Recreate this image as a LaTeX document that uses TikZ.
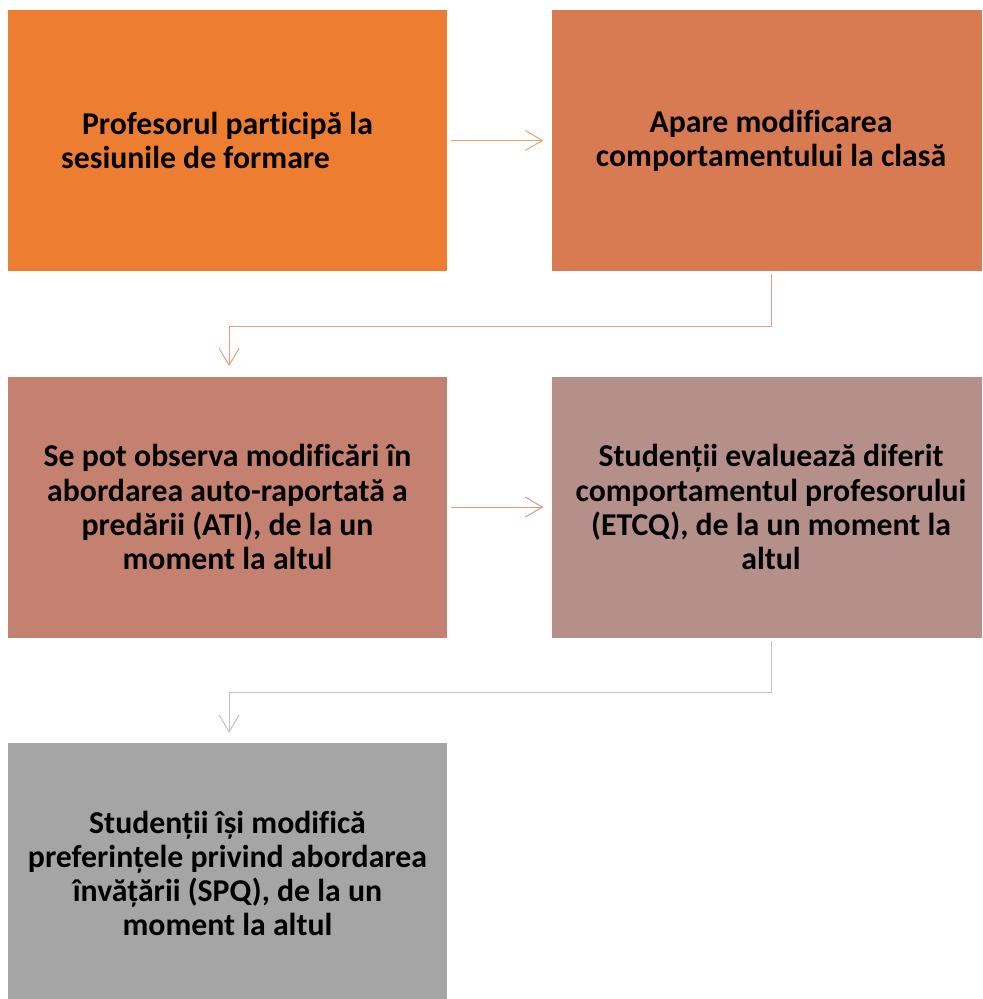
\documentclass[tikz,border=0pt]{standalone}
\usepackage{fontspec}
\setmainfont{Carlito}[Ligatures=NoCommon]
\usetikzlibrary{arrows.meta,positioning}

\definecolor{stepone}{HTML}{ED7D31}
\definecolor{steptwo}{HTML}{D87B53}
\definecolor{stepthree}{HTML}{C58170}
\definecolor{stepfour}{HTML}{B5908A}
\definecolor{stepfive}{HTML}{A5A5A5}

\tikzset{
  stage/.style={rectangle, minimum width=10.975cm, minimum height=6.525cm,
    align=center, inner sep=0pt, font=\fontsize{22.6}{24.3}\selectfont\bfseries},
  link/.style={line width=0.7pt, -{Straight Barb[length=4.25mm,width=5mm]}}
}

\begin{document}
\begin{tikzpicture}

% Page frame
\path[use as bounding box, clip] (0,0) rectangle (24.55,24.975);

% Stages
\node[stage, fill=stepone] (prof) at (5.6875,21.4625)
  {Profesorul participă la\\sesiunile de formare\hspace*{1.6cm}};
\node[stage, fill=steptwo, right=2.6cm of prof] (comp)
  {Apare modificarea\\comportamentului la clasă};
\node[stage, fill=stepthree, below=2.625cm of prof] (ati)
  {Se pot observa modificări în\\abordarea auto-raportată a\\predării (ATI), de la un\\moment la altul};
\node[stage, fill=stepfour, right=2.6cm of ati] (etcq)
  {Studenții evaluează diferit\\comportamentul profesorului\\(ETCQ), de la un moment la\\altul};
\node[stage, fill=stepfive, below=2.625cm of ati] (spq)
  {Studenții își modifică\\preferințele privind abordarea\\învățării (SPQ), de la un\\moment la altul};

% Horizontal arrows
\draw[link, draw={rgb,255:red,243;green,160;blue,105}, shorten <=1mm, shorten >=2mm]
  (prof.east) -- (comp.west);
\draw[link, draw={rgb,255:red,222;green,150;blue,130}, shorten <=1mm, shorten >=2mm]
  (ati.east) -- (etcq.west);

% Elbow connectors
\draw[link, draw={rgb,255:red,226;green,160;blue,138}]
  ([yshift=-0.75mm]comp.south) -- ++(0,-1.3) -| ([xshift=0.4mm,yshift=2.5mm]ati.north);
\draw[link, draw={rgb,255:red,192;green,192;blue,192}]
  ([yshift=-0.75mm]etcq.south) -- ++(0,-1.3) -| ([xshift=0.4mm,yshift=2.5mm]spq.north);

\end{tikzpicture}
\end{document}
